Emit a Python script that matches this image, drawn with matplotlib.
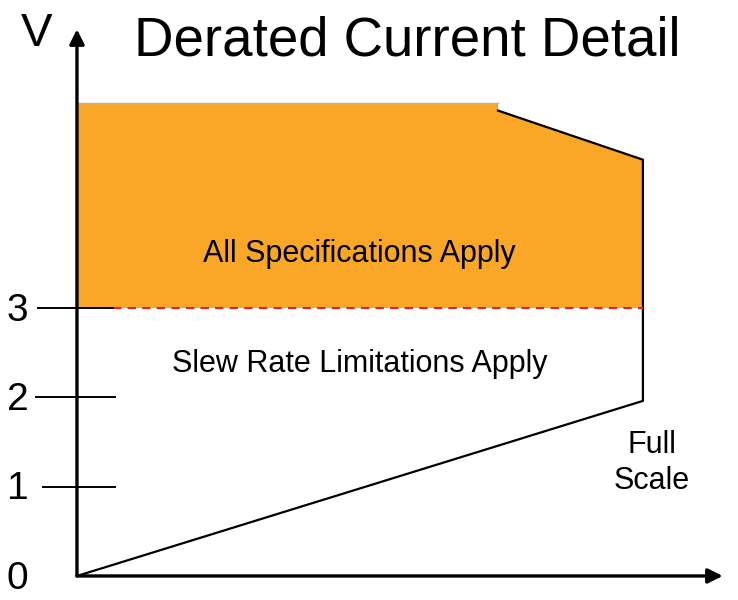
import matplotlib.pyplot as plt

plt.rcParams['font.family'] = ['Liberation Sans', 'DejaVu Sans']

# data (x: fraction of full-scale current, y: volts)
top_x = [0.0, 0.744, 0.744, 1.0]
top_y = [5.29, 5.29, 5.21, 4.66]
full_scale = 1.0
slew_end_v = 1.96
threshold_v = 3
tick_vals = [0, 1, 2, 3]
tick_labels = ['0', '1', '2', '3']

fig = plt.figure(figsize=(7.38, 6), dpi=100)
ax = fig.add_axes([0, 0, 1, 1])
ax.set_xlim(-0.136, 1.168)
ax.set_ylim(-0.269, 6.448)
ax.axis('off')

# orange region above threshold
poly_x = top_x + [full_scale, 0.0]
poly_y = top_y + [threshold_v, threshold_v]
ax.fill(poly_x, poly_y, color='#FAA626', lw=0, zorder=1)
ax.plot(top_x[:2], top_y[:2], color='#b0b0b0', lw=1, zorder=2)

# outline: derating slope, full scale edge, slew limit line
ax.plot(top_x[2:] + [full_scale, full_scale, 0.0],
        top_y[2:] + [threshold_v, slew_end_v, 0.0],
        color='black', lw=1.6, zorder=3)

# threshold dashed line
ax.plot([0.064, full_scale], [threshold_v, threshold_v], color='#ee1c25',
        lw=1.5, ls=(0, (4, 3)), zorder=3)

# ticks and tick labels
tick_left = [-0.060, -0.060, -0.072, -0.069]
tick_right = [0.0, 0.067, 0.067, 0.064]
for v, lab, x0, x1 in zip(tick_vals, tick_labels, tick_left, tick_right):
    if v > 0:
        ax.plot([x0, x1], [v, v], color='black', lw=1.4, zorder=3)
    ax.text(-0.105, v - 0.03, lab, fontsize=28, ha='center', va='center')

# axes with arrows
ax.annotate('', xy=(0, 6.12), xytext=(0, 0),
            arrowprops=dict(arrowstyle='-|>', color='black', lw=2.4,
                            mutation_scale=22, shrinkA=0, shrinkB=0), zorder=4)
ax.annotate('', xy=(1.141, 0), xytext=(0, 0),
            arrowprops=dict(arrowstyle='-|>', color='black', lw=2.4,
                            mutation_scale=22, shrinkA=0, shrinkB=0), zorder=4)

ax.text(-0.072, 6.07, 'V', fontsize=34, ha='center', va='center')
ax.text(0.584, 5.83, 'Derated Current Detail', fontsize=39.3, ha='center', va='baseline')
ax.text(0.498, 3.515, 'All Specifications Apply', fontsize=22, ha='center', va='baseline')
ax.text(0.500, 2.284, 'Slew Rate Limitations Apply', fontsize=22, ha='center', va='baseline')
ax.text(1.016, 1.377, 'Full', fontsize=22, ha='center', va='baseline')
ax.text(1.016, 0.974, 'Scale', fontsize=22, ha='center', va='baseline')

fig.savefig('out.png', dpi=100)
